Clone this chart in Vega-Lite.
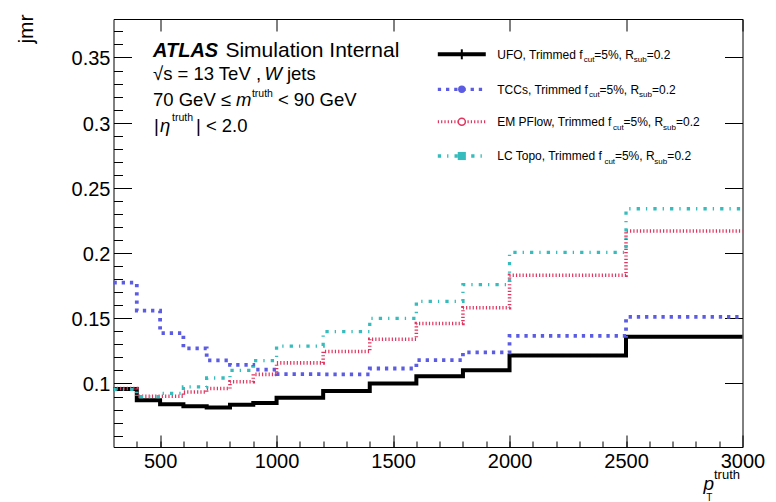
{
  "$schema": "https://vega.github.io/schema/vega-lite/v6.json",
  "width": 629,
  "height": 428,
  "autosize": {"type": "none"},
  "padding": {"left": 113.5, "top": 19, "right": 33.5, "bottom": 55},
  "config": {
    "font": "Liberation Sans",
    "view": {"stroke": "#000000", "strokeWidth": 1},
    "axis": {"grid": false, "labelColor": "#000000", "titleColor": "#000000", "labelFont": "Liberation Sans", "titleFont": "Liberation Sans", "titleFontWeight": "normal", "labelFlush": false, "labelOverlap": false, "labelBound": false},
    "text": {"font": "Liberation Sans", "color": "#000000"}
  },
  "datasets": {
    "one": [{}],
    "main": [
      {"series": "UFO", "pt": 300, "jmr": 0.0958},
      {"series": "UFO", "pt": 400, "jmr": 0.0872},
      {"series": "UFO", "pt": 500, "jmr": 0.0841},
      {"series": "UFO", "pt": 600, "jmr": 0.0826},
      {"series": "UFO", "pt": 700, "jmr": 0.0815},
      {"series": "UFO", "pt": 800, "jmr": 0.0837},
      {"series": "UFO", "pt": 900, "jmr": 0.0850},
      {"series": "UFO", "pt": 1000, "jmr": 0.0891},
      {"series": "UFO", "pt": 1200, "jmr": 0.0943},
      {"series": "UFO", "pt": 1400, "jmr": 0.1000},
      {"series": "UFO", "pt": 1600, "jmr": 0.1056},
      {"series": "UFO", "pt": 1800, "jmr": 0.1102},
      {"series": "UFO", "pt": 2000, "jmr": 0.1215},
      {"series": "UFO", "pt": 2500, "jmr": 0.1358},
      {"series": "UFO", "pt": 3000, "jmr": 0.1358},
      {"series": "TCCs", "pt": 300, "jmr": 0.1773},
      {"series": "TCCs", "pt": 400, "jmr": 0.1558},
      {"series": "TCCs", "pt": 500, "jmr": 0.1387},
      {"series": "TCCs", "pt": 600, "jmr": 0.1270},
      {"series": "TCCs", "pt": 700, "jmr": 0.1178},
      {"series": "TCCs", "pt": 800, "jmr": 0.1142},
      {"series": "TCCs", "pt": 900, "jmr": 0.1107},
      {"series": "TCCs", "pt": 1000, "jmr": 0.1071},
      {"series": "TCCs", "pt": 1200, "jmr": 0.1070},
      {"series": "TCCs", "pt": 1400, "jmr": 0.1115},
      {"series": "TCCs", "pt": 1600, "jmr": 0.1180},
      {"series": "TCCs", "pt": 1800, "jmr": 0.1238},
      {"series": "TCCs", "pt": 2000, "jmr": 0.1366},
      {"series": "TCCs", "pt": 2500, "jmr": 0.1510},
      {"series": "TCCs", "pt": 3000, "jmr": 0.1510},
      {"series": "EM PFlow", "pt": 300, "jmr": 0.0962},
      {"series": "EM PFlow", "pt": 400, "jmr": 0.0902},
      {"series": "EM PFlow", "pt": 500, "jmr": 0.0902},
      {"series": "EM PFlow", "pt": 600, "jmr": 0.0935},
      {"series": "EM PFlow", "pt": 700, "jmr": 0.0961},
      {"series": "EM PFlow", "pt": 800, "jmr": 0.1014},
      {"series": "EM PFlow", "pt": 900, "jmr": 0.1070},
      {"series": "EM PFlow", "pt": 1000, "jmr": 0.1158},
      {"series": "EM PFlow", "pt": 1200, "jmr": 0.1245},
      {"series": "EM PFlow", "pt": 1400, "jmr": 0.1340},
      {"series": "EM PFlow", "pt": 1600, "jmr": 0.1460},
      {"series": "EM PFlow", "pt": 1800, "jmr": 0.1580},
      {"series": "EM PFlow", "pt": 2000, "jmr": 0.1830},
      {"series": "EM PFlow", "pt": 2500, "jmr": 0.2170},
      {"series": "EM PFlow", "pt": 3000, "jmr": 0.2170},
      {"series": "LC Topo", "pt": 300, "jmr": 0.0955},
      {"series": "LC Topo", "pt": 400, "jmr": 0.0900},
      {"series": "LC Topo", "pt": 500, "jmr": 0.0924},
      {"series": "LC Topo", "pt": 600, "jmr": 0.0974},
      {"series": "LC Topo", "pt": 700, "jmr": 0.1042},
      {"series": "LC Topo", "pt": 800, "jmr": 0.1101},
      {"series": "LC Topo", "pt": 900, "jmr": 0.1176},
      {"series": "LC Topo", "pt": 1000, "jmr": 0.1287},
      {"series": "LC Topo", "pt": 1200, "jmr": 0.1397},
      {"series": "LC Topo", "pt": 1400, "jmr": 0.1500},
      {"series": "LC Topo", "pt": 1600, "jmr": 0.1630},
      {"series": "LC Topo", "pt": 1800, "jmr": 0.1758},
      {"series": "LC Topo", "pt": 2000, "jmr": 0.2005},
      {"series": "LC Topo", "pt": 2500, "jmr": 0.2340},
      {"series": "LC Topo", "pt": 3000, "jmr": 0.2340}
    ]
  },
  "resolve": {"axis": {"x": "independent", "y": "independent"}},
  "layer": [
    {
      "resolve": {"axis": {"x": "independent", "y": "independent"}},
      "layer": [
        {
          "data": {"name": "main"},
          "mark": {"type": "line", "interpolate": "step-after", "strokeCap": "butt"},
          "encoding": {
            "x": {"field": "pt", "type": "quantitative", "scale": {"domain": [300, 3000], "nice": false, "zero": false},
              "axis": {"orient": "bottom", "offset": -12, "domain": false, "values": [500, 1000, 1500, 2000, 2500, 3000], "format": "d", "ticks": true, "tickSize": 12, "tickColor": "#000000", "labelFontSize": 20, "labelPadding": 20.3, "labelBaseline": "alphabetic", "title": "p", "titleFontStyle": "italic", "titleFontSize": 19, "titleX": 589.5, "titleY": 54.3, "titleAlign": "left", "titleBaseline": "alphabetic", "titleAngle": 0}},
            "y": {"field": "jmr", "type": "quantitative", "scale": {"domain": [0.0513, 0.3795], "nice": false, "zero": false},
              "axis": {"orient": "left", "offset": -18, "domain": false, "values": [0.1, 0.15, 0.2, 0.25, 0.3, 0.35], "format": "~g", "ticks": true, "tickSize": 18, "tickColor": "#000000", "labelFontSize": 20, "labelPadding": 3.5, "labelBaseline": "alphabetic", "labelOffset": 7.5, "title": null}},
            "color": {"field": "series", "type": "nominal", "scale": {"domain": ["UFO", "TCCs", "EM PFlow", "LC Topo"], "range": ["#000000", "#5b5be3", "#e0355f", "#36bcbc"]}, "legend": null},
            "strokeDash": {"field": "series", "type": "nominal", "scale": {"domain": ["UFO", "TCCs", "EM PFlow", "LC Topo"], "range": [[1, 0], [3.3, 4.9], [1.2, 2.1], [3.3, 6, 1.3, 6.1]]}, "legend": null},
            "strokeWidth": {"field": "series", "type": "nominal", "scale": {"domain": ["UFO", "TCCs", "EM PFlow", "LC Topo"], "range": [4, 3.3, 3, 3.3]}, "legend": null}
          }
        },
        {
          "data": {"name": "main"},
          "mark": {"type": "point", "opacity": 0},
          "encoding": {
            "x": {"field": "pt", "type": "quantitative", "axis": {"orient": "bottom", "offset": -6, "domain": false, "values": [400, 500, 600, 700, 800, 900, 1000, 1100, 1200, 1300, 1400, 1500, 1600, 1700, 1800, 1900, 2000, 2100, 2200, 2300, 2400, 2500, 2600, 2700, 2800, 2900], "ticks": true, "tickSize": 6, "tickColor": "#000000", "labels": false, "title": "truth", "titleFontSize": 13, "titleX": 600, "titleY": 37.5, "titleAlign": "left", "titleBaseline": "alphabetic", "titleAngle": 0}},
            "y": {"field": "jmr", "type": "quantitative", "axis": {"orient": "left", "offset": -9, "domain": false, "values": [0.06, 0.07, 0.08, 0.09, 0.1, 0.11, 0.12, 0.13, 0.14, 0.15, 0.16, 0.17, 0.18, 0.19, 0.2, 0.21, 0.22, 0.23, 0.24, 0.25, 0.26, 0.27, 0.28, 0.29, 0.3, 0.31, 0.32, 0.33, 0.34, 0.35, 0.36, 0.37], "ticks": true, "tickSize": 9, "tickColor": "#000000", "labels": false, "title": null}}
          }
        },
        {
          "data": {"name": "main"},
          "mark": {"type": "point", "opacity": 0},
          "encoding": {
            "x": {"field": "pt", "type": "quantitative", "axis": {"orient": "top", "offset": -12, "domain": false, "values": [500, 1000, 1500, 2000, 2500, 3000], "ticks": true, "tickSize": 12, "tickColor": "#000000", "labels": false, "title": null}},
            "y": {"field": "jmr", "type": "quantitative", "axis": {"orient": "right", "offset": -18, "domain": false, "values": [0.1, 0.15, 0.2, 0.25, 0.3, 0.35], "ticks": true, "tickSize": 18, "tickColor": "#000000", "labels": false, "title": null}}
          }
        },
        {"data": {"name": "one"}, "mark": {"type": "text", "align": "center", "baseline": "alphabetic", "fontSize": 21, "angle": 270}, "encoding": {"x": {"datum": -47.1, "type": "quantitative", "axis": null}, "y": {"datum": 0.37183, "type": "quantitative", "axis": null}, "text": {"value": "jmr"}}},
        {"data": {"name": "one"}, "mark": {"type": "text", "align": "left", "baseline": "alphabetic", "fontSize": 10}, "encoding": {"x": {"datum": 2844.1, "type": "quantitative", "axis": null}, "y": {"datum": 0.00987, "type": "quantitative", "axis": null}, "text": {"value": "T"}}}
      ]
    },
    {
      "layer": [
        {"data": {"name": "one"}, "mark": {"type": "rule", "color": "#000000", "strokeWidth": 4, "strokeCap": "butt"},
          "encoding": {"x": {"datum": 1692.1, "type": "quantitative", "axis": null}, "x2": {"datum": 1898.0}, "y": {"datum": 0.35243, "type": "quantitative", "axis": null}}},
        {"data": {"name": "one"}, "mark": {"type": "rule", "color": "#000000", "strokeWidth": 2, "strokeCap": "butt"},
          "encoding": {"x": {"datum": 1795.1, "type": "quantitative", "axis": null}, "y": {"datum": 0.3486, "type": "quantitative", "axis": null}, "y2": {"datum": 0.35626}}},
        {"data": {"name": "one"}, "mark": {"type": "rule", "color": "#5b5be3", "strokeWidth": 3.3, "strokeDash": [3.3, 4.9], "strokeCap": "butt"},
          "encoding": {"x": {"datum": 1692.1, "type": "quantitative", "axis": null}, "x2": {"datum": 1898.0}, "y": {"datum": 0.32559, "type": "quantitative", "axis": null}}},
        {"data": {"name": "one"}, "mark": {"type": "point", "shape": "circle", "filled": true, "color": "#5b5be3", "size": 55, "opacity": 1},
          "encoding": {"x": {"datum": 1795.1, "type": "quantitative", "axis": null}, "y": {"datum": 0.32559, "type": "quantitative", "axis": null}}},
        {"data": {"name": "one"}, "mark": {"type": "rule", "color": "#e0355f", "strokeWidth": 3, "strokeDash": [1.2, 2.1], "strokeCap": "butt"},
          "encoding": {"x": {"datum": 1692.1, "type": "quantitative", "axis": null}, "x2": {"datum": 1898.0}, "y": {"datum": 0.30074, "type": "quantitative", "axis": null}}},
        {"data": {"name": "one"}, "mark": {"type": "point", "shape": "circle", "filled": true, "fill": "#ffffff", "stroke": "#e0355f", "strokeWidth": 1.5, "size": 50, "opacity": 1},
          "encoding": {"x": {"datum": 1795.1, "type": "quantitative", "axis": null}, "y": {"datum": 0.30074, "type": "quantitative", "axis": null}}},
        {"data": {"name": "one"}, "mark": {"type": "rule", "color": "#36bcbc", "strokeWidth": 3.3, "strokeDash": [3.3, 6, 1.3, 6.1], "strokeCap": "butt"},
          "encoding": {"x": {"datum": 1692.1, "type": "quantitative", "axis": null}, "x2": {"datum": 1898.0}, "y": {"datum": 0.27444, "type": "quantitative", "axis": null}}},
        {"data": {"name": "one"}, "mark": {"type": "square", "filled": true, "color": "#36bcbc", "size": 66, "opacity": 1},
          "encoding": {"x": {"datum": 1795.1, "type": "quantitative", "axis": null}, "y": {"datum": 0.27444, "type": "quantitative", "axis": null}}},

        {"data": {"name": "one"}, "mark": {"type": "text", "align": "left", "baseline": "alphabetic", "fontSize": 12}, "encoding": {"x": {"datum": 1947.4, "type": "quantitative", "axis": null}, "y": {"datum": 0.34913, "type": "quantitative", "axis": null}, "text": {"value": "UFO, Trimmed f"}}},
        {"data": {"name": "one"}, "mark": {"type": "text", "align": "left", "baseline": "alphabetic", "fontSize": 8}, "encoding": {"x": {"datum": 2318.4, "type": "quantitative", "axis": null}, "y": {"datum": 0.34629, "type": "quantitative", "axis": null}, "text": {"value": "cut"}}},
        {"data": {"name": "one"}, "mark": {"type": "text", "align": "left", "baseline": "alphabetic", "fontSize": 12}, "encoding": {"x": {"datum": 2363.5, "type": "quantitative", "axis": null}, "y": {"datum": 0.34913, "type": "quantitative", "axis": null}, "text": {"value": "=5%, R"}}},
        {"data": {"name": "one"}, "mark": {"type": "text", "align": "left", "baseline": "alphabetic", "fontSize": 8}, "encoding": {"x": {"datum": 2533.0, "type": "quantitative", "axis": null}, "y": {"datum": 0.34629, "type": "quantitative", "axis": null}, "text": {"value": "sub"}}},
        {"data": {"name": "one"}, "mark": {"type": "text", "align": "left", "baseline": "alphabetic", "fontSize": 12}, "encoding": {"x": {"datum": 2588.7, "type": "quantitative", "axis": null}, "y": {"datum": 0.34913, "type": "quantitative", "axis": null}, "text": {"value": "=0.2"}}},

        {"data": {"name": "one"}, "mark": {"type": "text", "align": "left", "baseline": "alphabetic", "fontSize": 12}, "encoding": {"x": {"datum": 1947.4, "type": "quantitative", "axis": null}, "y": {"datum": 0.32229, "type": "quantitative", "axis": null}, "text": {"value": "TCCs, Trimmed f"}}},
        {"data": {"name": "one"}, "mark": {"type": "text", "align": "left", "baseline": "alphabetic", "fontSize": 8}, "encoding": {"x": {"datum": 2341.2, "type": "quantitative", "axis": null}, "y": {"datum": 0.31945, "type": "quantitative", "axis": null}, "text": {"value": "cut"}}},
        {"data": {"name": "one"}, "mark": {"type": "text", "align": "left", "baseline": "alphabetic", "fontSize": 12}, "encoding": {"x": {"datum": 2386.2, "type": "quantitative", "axis": null}, "y": {"datum": 0.32229, "type": "quantitative", "axis": null}, "text": {"value": "=5%, R"}}},
        {"data": {"name": "one"}, "mark": {"type": "text", "align": "left", "baseline": "alphabetic", "fontSize": 8}, "encoding": {"x": {"datum": 2555.7, "type": "quantitative", "axis": null}, "y": {"datum": 0.31945, "type": "quantitative", "axis": null}, "text": {"value": "sub"}}},
        {"data": {"name": "one"}, "mark": {"type": "text", "align": "left", "baseline": "alphabetic", "fontSize": 12}, "encoding": {"x": {"datum": 2611.5, "type": "quantitative", "axis": null}, "y": {"datum": 0.32229, "type": "quantitative", "axis": null}, "text": {"value": "=0.2"}}},

        {"data": {"name": "one"}, "mark": {"type": "text", "align": "left", "baseline": "alphabetic", "fontSize": 12}, "encoding": {"x": {"datum": 1947.4, "type": "quantitative", "axis": null}, "y": {"datum": 0.29744, "type": "quantitative", "axis": null}, "text": {"value": "EM PFlow, Trimmed f"}}},
        {"data": {"name": "one"}, "mark": {"type": "text", "align": "left", "baseline": "alphabetic", "fontSize": 8}, "encoding": {"x": {"datum": 2444.1, "type": "quantitative", "axis": null}, "y": {"datum": 0.29461, "type": "quantitative", "axis": null}, "text": {"value": "cut"}}},
        {"data": {"name": "one"}, "mark": {"type": "text", "align": "left", "baseline": "alphabetic", "fontSize": 12}, "encoding": {"x": {"datum": 2489.2, "type": "quantitative", "axis": null}, "y": {"datum": 0.29744, "type": "quantitative", "axis": null}, "text": {"value": "=5%, R"}}},
        {"data": {"name": "one"}, "mark": {"type": "text", "align": "left", "baseline": "alphabetic", "fontSize": 8}, "encoding": {"x": {"datum": 2658.6, "type": "quantitative", "axis": null}, "y": {"datum": 0.29461, "type": "quantitative", "axis": null}, "text": {"value": "sub"}}},
        {"data": {"name": "one"}, "mark": {"type": "text", "align": "left", "baseline": "alphabetic", "fontSize": 12}, "encoding": {"x": {"datum": 2714.4, "type": "quantitative", "axis": null}, "y": {"datum": 0.29744, "type": "quantitative", "axis": null}, "text": {"value": "=0.2"}}},

        {"data": {"name": "one"}, "mark": {"type": "text", "align": "left", "baseline": "alphabetic", "fontSize": 12}, "encoding": {"x": {"datum": 1947.4, "type": "quantitative", "axis": null}, "y": {"datum": 0.27114, "type": "quantitative", "axis": null}, "text": {"value": "LC Topo, Trimmed f"}}},
        {"data": {"name": "one"}, "mark": {"type": "text", "align": "left", "baseline": "alphabetic", "fontSize": 8}, "encoding": {"x": {"datum": 2407.2, "type": "quantitative", "axis": null}, "y": {"datum": 0.2683, "type": "quantitative", "axis": null}, "text": {"value": "cut"}}},
        {"data": {"name": "one"}, "mark": {"type": "text", "align": "left", "baseline": "alphabetic", "fontSize": 12}, "encoding": {"x": {"datum": 2452.3, "type": "quantitative", "axis": null}, "y": {"datum": 0.27114, "type": "quantitative", "axis": null}, "text": {"value": "=5%, R"}}},
        {"data": {"name": "one"}, "mark": {"type": "text", "align": "left", "baseline": "alphabetic", "fontSize": 8}, "encoding": {"x": {"datum": 2621.7, "type": "quantitative", "axis": null}, "y": {"datum": 0.2683, "type": "quantitative", "axis": null}, "text": {"value": "sub"}}},
        {"data": {"name": "one"}, "mark": {"type": "text", "align": "left", "baseline": "alphabetic", "fontSize": 12}, "encoding": {"x": {"datum": 2677.5, "type": "quantitative", "axis": null}, "y": {"datum": 0.27114, "type": "quantitative", "axis": null}, "text": {"value": "=0.2"}}},

        {"data": {"name": "one"}, "mark": {"type": "text", "align": "left", "baseline": "alphabetic", "fontSize": 20, "fontWeight": "bold", "fontStyle": "italic"}, "encoding": {"x": {"datum": 469.5, "type": "quantitative", "axis": null}, "y": {"datum": 0.35013, "type": "quantitative", "axis": null}, "text": {"value": "ATLAS"}}},
        {"data": {"name": "one"}, "mark": {"type": "text", "align": "left", "baseline": "alphabetic", "fontSize": 21}, "encoding": {"x": {"datum": 780.5, "type": "quantitative", "axis": null}, "y": {"datum": 0.35013, "type": "quantitative", "axis": null}, "text": {"value": "Simulation Internal"}}},

        {"data": {"name": "one"}, "mark": {"type": "text", "align": "left", "baseline": "alphabetic", "fontSize": 18.5}, "encoding": {"x": {"datum": 469.5, "type": "quantitative", "axis": null}, "y": {"datum": 0.33272, "type": "quantitative", "axis": null}, "text": {"value": "√s = 13 TeV ,"}}},
        {"data": {"name": "one"}, "mark": {"type": "text", "align": "left", "baseline": "alphabetic", "fontSize": 18.5, "fontStyle": "italic"}, "encoding": {"x": {"datum": 947.8, "type": "quantitative", "axis": null}, "y": {"datum": 0.33272, "type": "quantitative", "axis": null}, "text": {"value": "W"}}},
        {"data": {"name": "one"}, "mark": {"type": "text", "align": "left", "baseline": "alphabetic", "fontSize": 18.5}, "encoding": {"x": {"datum": 1044.3, "type": "quantitative", "axis": null}, "y": {"datum": 0.33272, "type": "quantitative", "axis": null}, "text": {"value": "jets"}}},

        {"data": {"name": "one"}, "mark": {"type": "text", "align": "left", "baseline": "alphabetic", "fontSize": 18.5}, "encoding": {"x": {"datum": 469.5, "type": "quantitative", "axis": null}, "y": {"datum": 0.31278, "type": "quantitative", "axis": null}, "text": {"value": "70 GeV ≤"}}},
        {"data": {"name": "one"}, "mark": {"type": "text", "align": "left", "baseline": "alphabetic", "fontSize": 18.5, "fontStyle": "italic"}, "encoding": {"x": {"datum": 825.6, "type": "quantitative", "axis": null}, "y": {"datum": 0.31278, "type": "quantitative", "axis": null}, "text": {"value": "m"}}},
        {"data": {"name": "one"}, "mark": {"type": "text", "align": "left", "baseline": "alphabetic", "fontSize": 10.5}, "encoding": {"x": {"datum": 894.2, "type": "quantitative", "axis": null}, "y": {"datum": 0.31968, "type": "quantitative", "axis": null}, "text": {"value": "truth"}}},
        {"data": {"name": "one"}, "mark": {"type": "text", "align": "left", "baseline": "alphabetic", "fontSize": 18.5}, "encoding": {"x": {"datum": 1005.7, "type": "quantitative", "axis": null}, "y": {"datum": 0.31278, "type": "quantitative", "axis": null}, "text": {"value": "< 90 GeV"}}},

        {"data": {"name": "one"}, "mark": {"type": "text", "align": "left", "baseline": "alphabetic", "fontSize": 18.5}, "encoding": {"x": {"datum": 473.7, "type": "quantitative", "axis": null}, "y": {"datum": 0.29284, "type": "quantitative", "axis": null}, "text": {"value": "|"}}},
        {"data": {"name": "one"}, "mark": {"type": "text", "align": "left", "baseline": "alphabetic", "fontSize": 18.5, "fontStyle": "italic"}, "encoding": {"x": {"datum": 499.5, "type": "quantitative", "axis": null}, "y": {"datum": 0.29284, "type": "quantitative", "axis": null}, "text": {"value": "η"}}},
        {"data": {"name": "one"}, "mark": {"type": "text", "align": "left", "baseline": "alphabetic", "fontSize": 10.5}, "encoding": {"x": {"datum": 551, "type": "quantitative", "axis": null}, "y": {"datum": 0.30128, "type": "quantitative", "axis": null}, "text": {"value": "truth"}}},
        {"data": {"name": "one"}, "mark": {"type": "text", "align": "left", "baseline": "alphabetic", "fontSize": 18.5}, "encoding": {"x": {"datum": 653.9, "type": "quantitative", "axis": null}, "y": {"datum": 0.29284, "type": "quantitative", "axis": null}, "text": {"value": "| < 2.0"}}}
      ]
    }
  ]
}
